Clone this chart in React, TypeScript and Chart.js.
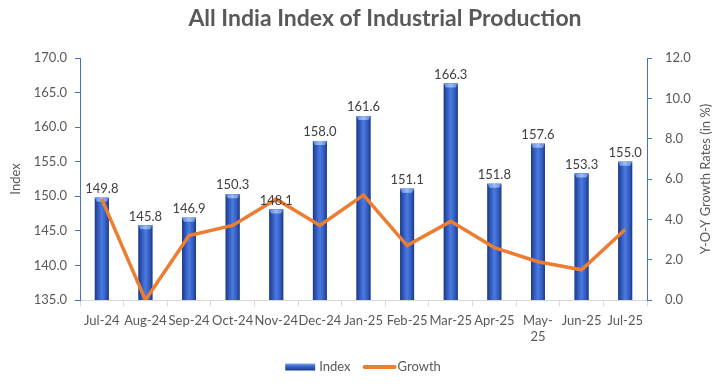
import React, { useEffect, useRef } from "react";
import { Chart, registerables } from "chart.js";

Chart.register(...registerables);

const categories: (string | string[])[] = [
  "Jul-24", "Aug-24", "Sep-24", "Oct-24", "Nov-24", "Dec-24", "Jan-25",
  "Feb-25", "Mar-25", "Apr-25", ["May-", "25"], "Jun-25", "Jul-25",
];
const indexValues = [149.8, 145.8, 146.9, 150.3, 148.1, 158.0, 161.6, 151.1, 166.3, 151.8, 157.6, 153.3, 155.0];
const growthValues = [5.0, 0.0, 3.2, 3.7, 5.0, 3.7, 5.2, 2.7, 3.9, 2.6, 1.9, 1.5, 3.5];
const chartTitle = "All India Index of Industrial Production";
const rightAxisTitle = "Y-O-Y Growth Rates (in %)";
const legendNames = ["Index", "Growth"];

const FONT = "Lato, 'Open Sans', sans-serif";
const GREY = "#595959";
const AXIS_BLUE = "#4472C4";
const ORANGE = "#ED7D31";

function barGradient(ctx: CanvasRenderingContext2D, x0: number, x1: number) {
  const g = ctx.createLinearGradient(x0, 0, x1, 0);
  g.addColorStop(0, "#1c3a85");
  g.addColorStop(0.3, "#3862c8");
  g.addColorStop(0.5, "#4a7ae0");
  g.addColorStop(0.75, "#3660c4");
  g.addColorStop(1, "#1d3b86");
  return g;
}

const barPaint = {
  id: "barPaint",
  afterDatasetDraw(chart: any, args: any) {
    if (args.index !== 0) return;
    const ctx = chart.ctx as CanvasRenderingContext2D;
    const area = chart.chartArea;
    const meta = chart.getDatasetMeta(0);
    ctx.save();
    ctx.beginPath();
    ctx.rect(area.left, area.top, area.right - area.left, area.bottom - area.top);
    ctx.clip();
    meta.data.forEach((el: any) => {
      const { x, y, base, width } = el.getProps(["x", "y", "base", "width"], true);
      const x0 = x - width / 2;
      const x1 = x + width / 2;
      ctx.fillStyle = barGradient(ctx, x0, x1);
      ctx.fillRect(x0, y, width, base - y);
      const cg = ctx.createLinearGradient(x0, 0, x1, 0);
      cg.addColorStop(0, "#5f88dc");
      cg.addColorStop(0.5, "#9dbcf5");
      cg.addColorStop(1, "#5f88dc");
      ctx.fillStyle = cg;
      ctx.beginPath();
      ctx.moveTo(x0, y);
      ctx.lineTo(x1, y);
      ctx.lineTo(x1 - 2, y + 4);
      ctx.lineTo(x0 + 2, y + 4);
      ctx.closePath();
      ctx.fill();
    });
    ctx.restore();
  },
  afterDatasetsDraw(chart: any) {
    const ctx = chart.ctx as CanvasRenderingContext2D;
    const meta = chart.getDatasetMeta(0);
    const area = chart.chartArea;
    ctx.save();
    ctx.font = `13px ${FONT}`;
    ctx.fillStyle = "#404040";
    ctx.textAlign = "center";
    ctx.textBaseline = "middle";
    meta.data.forEach((el: any, i: number) => {
      ctx.fillText(indexValues[i].toFixed(1), el.x, el.y - 9);
    });

    // title
    ctx.font = `bold 23px ${FONT}`;
    ctx.fillStyle = GREY;
    ctx.fillText(chartTitle, 377, 11);

    // legend
    ctx.font = `13px ${FONT}`;
    ctx.textAlign = "left";
    const sw = 30;
    const lw = 34;
    const w0 = ctx.measureText(legendNames[0]).width;
    const w1 = ctx.measureText(legendNames[1]).width;
    const total = sw + 4 + w0 + 12 + lw + 1 + w1;
    let lx = 355 - total / 2;
    const ly = 359;
    const g = ctx.createLinearGradient(0, ly - 3.5, 0, ly + 3.5);
    g.addColorStop(0, "#7ea4ee");
    g.addColorStop(0.4, "#3a66cc");
    g.addColorStop(1, "#1d3b86");
    ctx.fillStyle = g;
    ctx.fillRect(lx, ly - 3.5, sw, 7);
    lx += sw + 4;
    ctx.fillStyle = GREY;
    ctx.fillText(legendNames[0], lx, ly);
    lx += w0 + 12;
    ctx.strokeStyle = ORANGE;
    ctx.lineWidth = 4;
    ctx.lineCap = "round";
    ctx.beginPath();
    ctx.moveTo(lx + 2, ly);
    ctx.lineTo(lx + lw - 2, ly);
    ctx.stroke();
    lx += lw + 1;
    ctx.fillStyle = GREY;
    ctx.fillText(legendNames[1], lx, ly);

    // right axis title, reading bottom-to-top
    ctx.textAlign = "center";
    ctx.font = `13px ${FONT}`;
    ctx.fillStyle = GREY;
    ctx.translate(chart.width - 12, (area.top + area.bottom) / 2);
    ctx.rotate(-Math.PI / 2);
    ctx.fillText(rightAxisTitle, 0, 0);
    ctx.restore();
  },
};

export default function App() {
  const ref = useRef<HTMLCanvasElement>(null);
  useEffect(() => {
    if (!ref.current) return;
    const chart = new Chart(ref.current, {
      data: {
        labels: categories,
        datasets: [
          {
            type: "bar",
            label: "Index",
            data: indexValues,
            backgroundColor: "#3862c8",
            yAxisID: "y",
            barPercentage: 0.32,
            categoryPercentage: 1,
            order: 2,
          },
          {
            type: "line",
            label: "Growth",
            data: growthValues,
            borderColor: ORANGE,
            backgroundColor: ORANGE,
            borderWidth: 3.5,
            pointRadius: 0,
            tension: 0,
            yAxisID: "y1",
            order: 1,
          },
        ] as any,
      },
      plugins: [barPaint],
      options: {
        animation: false,
        responsive: true,
        maintainAspectRatio: false,
        layout: { padding: { top: 50, bottom: 0, left: 0, right: 0 } },
        plugins: {
          tooltip: { enabled: false },
          title: { display: false },
          legend: { display: false },
        },
        scales: {
          x: {
            grid: { offset: true, drawOnChartArea: false, color: "#d9d9d9", tickLength: 6 },
            border: { color: "#d9d9d9" },
            ticks: { color: GREY, font: { family: FONT, size: 13 }, maxRotation: 0, autoSkip: false, padding: 7 },
            afterFit: (s: any) => { s.height = 78; },
          },
          y: {
            position: "left",
            min: 135,
            max: 170,
            ticks: {
              stepSize: 5,
              color: GREY,
              font: { family: FONT, size: 13 },
              padding: 8,
              callback: (v: any) => Number(v).toFixed(1),
            },
            grid: { drawOnChartArea: false, color: AXIS_BLUE, tickLength: 5 },
            border: { color: AXIS_BLUE, width: 1 },
            title: { display: true, text: "Index", color: GREY, font: { family: FONT, size: 13 }, padding: { top: 0, bottom: 0 } },
            afterFit: (s: any) => { s.width = 72; },
          },
          y1: {
            position: "right",
            min: 0,
            max: 12,
            ticks: {
              stepSize: 2,
              color: GREY,
              font: { family: FONT, size: 13 },
              padding: 13,
              callback: (v: any) => Number(v).toFixed(1),
            },
            grid: { drawOnChartArea: false, color: AXIS_BLUE, tickLength: 5 },
            border: { color: AXIS_BLUE, width: 1 },
            afterFit: (s: any) => { s.width = 71; },
          },
        },
      } as any,
    });
    return () => chart.destroy();
  }, []);
  return (
    <div style={{ width: 710, height: 370, position: "relative" }}>
      <canvas ref={ref} />
    </div>
  );
}
